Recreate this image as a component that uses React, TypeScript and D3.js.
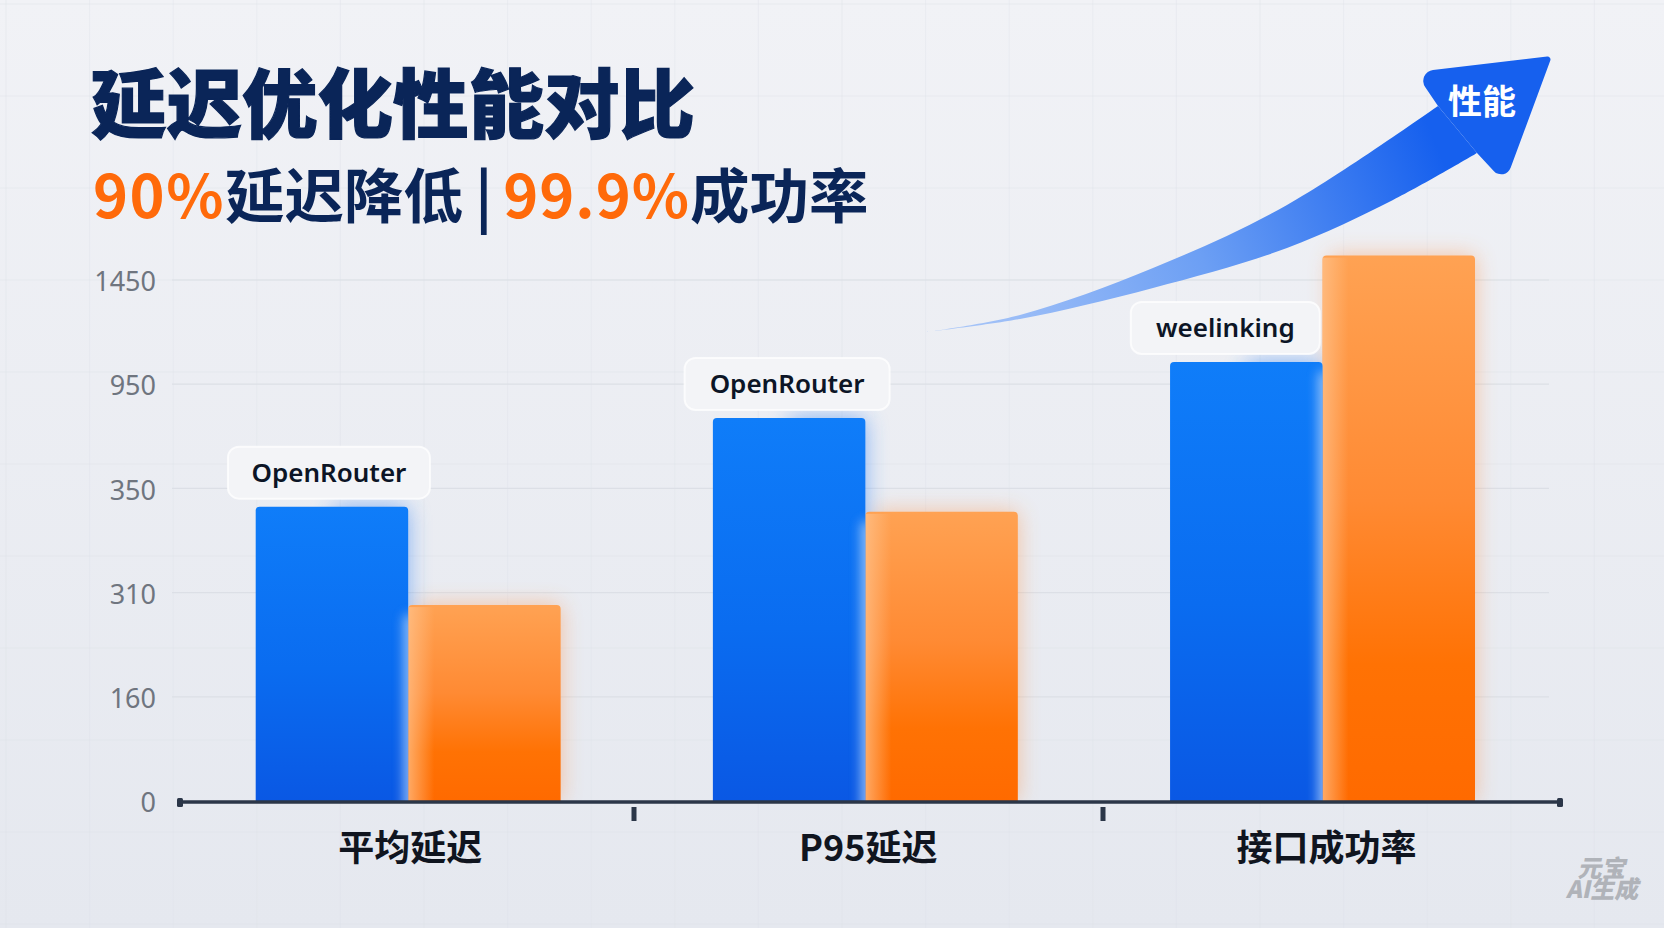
import React, { useEffect, useRef } from 'react';
import * as d3 from 'd3';

// Values
const categories = ['平均延迟', 'P95延迟', '接口成功率'];
const seriesNames = ['before', 'after'];
const beforeValues = [343, 756, 1057];
const afterValues = [292, 341, 1567];
const badgeLabels = ['OpenRouter', 'OpenRouter', 'weelinking'];
const yTicks = [0, 160, 310, 350, 950, 1450];
const axisDividers = [1, 2];

const WIDTH = 1664;
const HEIGHT = 928;
const BASELINE = 801;
const TICK_STEP = 104.2;
const CJK = '"Noto Sans CJK SC", "Noto Sans", sans-serif';

const App = () => {
  const svgRef = useRef<SVGSVGElement | null>(null);

  useEffect(() => {
    if (!svgRef.current) return;
    const svg = d3.select(svgRef.current);
    svg.selectAll('*').remove();

    const defs = svg.append('defs');

    const addGradient = (id: string, stops: [number, string, number?][], horizontal = false) => {
      const g = defs
        .append('linearGradient')
        .attr('id', id)
        .attr('x1', '0%')
        .attr('y1', '0%')
        .attr('x2', horizontal ? '100%' : '0%')
        .attr('y2', horizontal ? '0%' : '100%');
      stops.forEach(([o, c, a]) =>
        g
          .append('stop')
          .attr('offset', `${o}%`)
          .attr('stop-color', c)
          .attr('stop-opacity', a ?? 1)
      );
    };
    addGradient('bg', [
      [0, '#f1f2f6'],
      [100, '#e5e8ef'],
    ]);
    addGradient('before-fill', [
      [0, '#0f7df9'],
      [55, '#0a6cf0'],
      [100, '#0a58e4'],
    ]);
    addGradient('after-fill', [
      [0, '#ffa253'],
      [45, '#ff8a33'],
      [75, '#ff7204'],
      [100, '#ff6a00'],
    ]);
    // soft edge on the orange bar where it meets the blue one
    addGradient(
      'after-edge',
      [
        [0, '#ffc48f', 0.7],
        [100, '#ffc48f', 0],
      ],
      true
    );

    const arrowGradient = defs
      .append('linearGradient')
      .attr('id', 'arrow-fill')
      .attr('gradientUnits', 'userSpaceOnUse')
      .attr('x1', 950)
      .attr('y1', 330)
      .attr('x2', 1430)
      .attr('y2', 130);
    arrowGradient.append('stop').attr('offset', '0%').attr('stop-color', '#a9c6f8');
    arrowGradient.append('stop').attr('offset', '50%').attr('stop-color', '#6c9ff4');
    arrowGradient.append('stop').attr('offset', '100%').attr('stop-color', '#1660ee');

    defs
      .append('filter')
      .attr('id', 'glow')
      .attr('x', '-40%')
      .attr('y', '-30%')
      .attr('width', '180%')
      .attr('height', '160%')
      .append('feGaussianBlur')
      .attr('stdDeviation', 11);
    defs
      .append('filter')
      .attr('id', 'edge-blur')
      .attr('filterUnits', 'userSpaceOnUse')
      .attr('x', 0)
      .attr('y', 0)
      .attr('width', WIDTH)
      .attr('height', HEIGHT)
      .append('feGaussianBlur')
      .attr('stdDeviation', 6);

    // Background
    svg.append('rect').attr('width', WIDTH).attr('height', HEIGHT).attr('fill', 'url(#bg)');
    svg
      .append('g')
      .selectAll('line')
      .data(d3.range(6, WIDTH, 83.6))
      .enter()
      .append('line')
      .attr('x1', (d) => d)
      .attr('x2', (d) => d)
      .attr('y1', 0)
      .attr('y2', HEIGHT)
      .attr('stroke', '#dfe2e9')
      .attr('stroke-opacity', 0.4);
    svg
      .append('g')
      .selectAll('line')
      .data(d3.range(4, HEIGHT, 92))
      .enter()
      .append('line')
      .attr('x1', 0)
      .attr('x2', WIDTH)
      .attr('y1', (d) => d)
      .attr('y2', (d) => d)
      .attr('stroke', '#dfe2e9')
      .attr('stroke-opacity', 0.4);

    // Scales: the tick labels are evenly spaced although their values are not
    const yScale = d3
      .scaleLinear()
      .domain(yTicks)
      .range(yTicks.map((_, i) => BASELINE - i * TICK_STEP));
    const xScale = d3.scaleBand().domain(categories).range([255.7, 1475]).paddingInner(0.333);
    const xSeries = d3.scaleBand().domain(seriesNames).range([0, xScale.bandwidth()]);
    const dividerScale = d3.scaleLinear().domain([0, 3]).range([165, 1572]);

    // Gridlines and y axis
    svg
      .append('g')
      .selectAll('line')
      .data(yTicks.filter((d) => d > 0))
      .enter()
      .append('line')
      .attr('x1', 172)
      .attr('x2', 1549)
      .attr('y1', (d) => yScale(d))
      .attr('y2', (d) => yScale(d))
      .attr('stroke', '#dcdfe6')
      .attr('stroke-width', 1.2);

    const yAxis = d3
      .axisLeft(yScale)
      .tickValues(yTicks)
      .tickFormat((d) => String(d))
      .tickSize(0)
      .tickPadding(0);
    const yAxisGroup = svg.append('g').attr('transform', 'translate(156,2)').call(yAxis);
    yAxisGroup.select('.domain').remove();
    yAxisGroup
      .selectAll('text')
      .attr('font-family', '"Noto Sans", sans-serif')
      .attr('font-size', 27)
      .attr('fill', '#6f757f');

    // Bars
    const rows = categories.map((category, i) => ({
      category,
      badge: badgeLabels[i],
      before: beforeValues[i],
      after: afterValues[i],
    }));

    const barPath = (x: number, w: number, value: number) => {
      const top = yScale(value);
      const r = 4;
      return `M${x},${BASELINE}V${top + r}Q${x},${top} ${x + r},${top}H${x + w - r}Q${x + w},${top} ${x + w},${top + r}V${BASELINE}Z`;
    };
    const bw = xSeries.bandwidth();
    const glowClip = defs.append('clipPath').attr('id', 'above-axis');
    glowClip.append('rect').attr('width', WIDTH).attr('height', BASELINE);

    const glow = svg.append('g').attr('clip-path', 'url(#above-axis)');
    const bars = svg.append('g');
    rows.forEach((d, i) => {
      const x0 = xScale(d.category) ?? 0;
      const xAfter = x0 + (xSeries('after') ?? 0);
      const xBefore = x0 + (xSeries('before') ?? 0);
      glow
        .append('path')
        .attr('d', barPath(xAfter + 8, bw - 8, d.after))
        .attr('fill', '#ff8a3a')
        .attr('opacity', 0.45)
        .attr('filter', 'url(#glow)');
      // blue haze only shows on the right of the blue bar
      glow
        .append('path')
        .attr('d', barPath(xBefore + bw / 2, bw / 2, d.before))
        .attr('fill', '#2f80f5')
        .attr('opacity', 0.55)
        .attr('filter', 'url(#glow)');
      bars
        .append('path')
        .attr('d', barPath(xAfter, bw, d.after))
        .attr('fill', 'url(#after-fill)');
      bars
        .append('rect')
        .attr('x', xAfter)
        .attr('y', yScale(d.after) + 2)
        .attr('width', 26)
        .attr('height', BASELINE - yScale(d.after) - 2)
        .attr('fill', 'url(#after-edge)');
      bars
        .append('path')
        .attr('d', barPath(xBefore, bw, d.before))
        .attr('fill', 'url(#before-fill)');
      // blurred light strip, clipped to the blue bar, for its soft right edge
      const clipId = `before-clip-${i}`;
      defs
        .append('clipPath')
        .attr('id', clipId)
        .append('path')
        .attr('d', barPath(xBefore, bw, d.before));
      const topEdge = yScale(Math.min(d.before, d.after));
      bars
        .append('g')
        .attr('clip-path', `url(#${clipId})`)
        .append('rect')
        .attr('x', xBefore + bw - 4)
        .attr('y', topEdge + 10)
        .attr('width', 12)
        .attr('height', BASELINE - topEdge + 10)
        .attr('fill', '#a9ccf8')
        .attr('opacity', 0.9)
        .attr('filter', 'url(#edge-blur)');
    });

    // X axis
    const axis = svg.append('g');
    axis
      .append('line')
      .attr('x1', 180)
      .attr('x2', 1560)
      .attr('y1', BASELINE + 1)
      .attr('y2', BASELINE + 1)
      .attr('stroke', '#2b3648')
      .attr('stroke-width', 3.5);
    [180, 1560].forEach((x) =>
      axis
        .append('rect')
        .attr('x', x - 3)
        .attr('y', BASELINE - 3)
        .attr('width', 6)
        .attr('height', 9)
        .attr('rx', 1.5)
        .attr('fill', '#2b3648')
    );
    axis
      .selectAll('.divider')
      .data(axisDividers)
      .enter()
      .append('rect')
      .attr('class', 'divider')
      .attr('x', (d) => dividerScale(d) - 2.5)
      .attr('y', 807)
      .attr('width', 5)
      .attr('height', 14)
      .attr('fill', '#2b3648');
    axis
      .selectAll('.category')
      .data(categories)
      .enter()
      .append('text')
      .attr('class', 'category')
      .attr('x', (d, i) => (xScale(d) ?? 0) + xScale.bandwidth() / 2 + 2 + i)
      .attr('y', 848)
      .attr('dy', '0.36em')
      .attr('text-anchor', 'middle')
      .attr('font-family', CJK)
      .attr('font-size', 36)
      .attr('font-weight', 700)
      .attr('fill', '#10151f')
      .text((d) => d);

    // Arrow
    const edge = d3
      .line<[number, number]>()
      .x((d) => d[0])
      .y((d) => d[1])
      .curve(d3.curveCatmullRom.alpha(0.5));
    const upperEdge: [number, number][] = [
      [927, 332],
      [1020, 315],
      [1153, 268],
      [1287, 205],
      [1438, 106],
    ];
    const lowerEdge: [number, number][] = [
      [1477, 153],
      [1393, 200],
      [1287, 248],
      [1153, 288],
      [1020, 319],
      [927, 332],
    ];
    svg
      .append('path')
      .attr('d', `${edge(upperEdge)}L${(edge(lowerEdge) ?? '').slice(1)}Z`)
      .attr('fill', 'url(#arrow-fill)');
    const head = d3.path();
    head.moveTo(1438, 106);
    head.arcTo(1415, 72, 1552, 56, 11);
    head.arcTo(1552, 56, 1505, 183, 3);
    head.arcTo(1505, 183, 1477, 153, 10);
    head.lineTo(1477, 153);
    head.closePath();
    svg.append('path').attr('d', head.toString()).attr('fill', 'url(#arrow-fill)');
    svg
      .append('text')
      .attr('x', 1482)
      .attr('y', 102)
      .attr('dy', '0.36em')
      .attr('text-anchor', 'middle')
      .attr('font-family', CJK)
      .attr('font-size', 34)
      .attr('font-weight', 700)
      .attr('fill', '#ffffff')
      .text('性能');

    // Badges above the blue bars
    const badgeOffsets = [-3, -2, -21];
    const badgeWidths = [202, 205, 189];
    const badges = svg.append('g');
    rows.forEach((d, i) => {
      const cx = (xScale(d.category) ?? 0) + bw / 2 + badgeOffsets[i];
      const bottom = yScale(d.before) - 8;
      const h = 52;
      badges
        .append('rect')
        .attr('x', cx - badgeWidths[i] / 2)
        .attr('y', bottom - h)
        .attr('width', badgeWidths[i])
        .attr('height', h)
        .attr('rx', 11)
        .attr('fill', '#f3f4f7')
        .attr('stroke', '#ffffff')
        .attr('stroke-opacity', 0.75)
        .attr('stroke-width', 2);
      badges
        .append('text')
        .attr('x', cx)
        .attr('y', bottom - h / 2)
        .attr('dy', '0.35em')
        .attr('text-anchor', 'middle')
        .attr('font-family', '"Noto Sans", sans-serif')
        .attr('font-size', 26)
        .attr('font-weight', 600)
        .attr('fill', '#0c1526')
        .text(d.badge);
    });

    // Headline
    svg
      .append('text')
      .attr('x', 91)
      .attr('y', 105)
      .attr('dy', '0.36em')
      .attr('font-family', CJK)
      .attr('font-size', 75.5)
      .attr('font-weight', 900)
      .attr('fill', '#0a2558')
      .attr('stroke', '#0a2558')
      .attr('stroke-width', 1.2)
      .text('延迟优化性能对比');

    const subtitle = svg
      .append('text')
      .attr('x', 93)
      .attr('y', 197)
      .attr('dy', '0.36em')
      .attr('font-family', CJK)
      .attr('font-size', 59.5)
      .attr('font-weight', 700)
      .attr('fill', '#0a2558');
    const subtitleParts: [string, string, number][] = [
      ['90%', '#ff6a0a', 1.5],
      ['延迟降低', '#0a2558', 0],
      [' | ', '#0a2558', -1.5],
      ['99.9%', '#ff6a0a', 1],
      ['成功率', '#0a2558', 0],
    ];
    subtitleParts.forEach(([t, c, spacing]) =>
      subtitle
        .append('tspan')
        .attr('fill', c)
        .attr('letter-spacing', spacing)
        .attr('xml:space', 'preserve')
        .text(t)
    );

    // Watermark
    const mark = svg
      .append('g')
      .attr('transform', 'translate(1604,0) skewX(-12)')
      .attr('font-family', CJK)
      .attr('font-weight', 900)
      .attr('font-size', 24)
      .attr('fill', '#b0b3b9')
      .attr('text-anchor', 'middle');
    mark.append('text').attr('x', 184).attr('y', 877).text('元宝');
    mark.append('text').attr('x', 189).attr('y', 898).text('AI生成');
  }, []);

  return (
    <svg
      ref={svgRef}
      width={WIDTH}
      height={HEIGHT}
      style={{ position: 'fixed', top: 0, left: 0, display: 'block' }}
    />
  );
};

export default App;
